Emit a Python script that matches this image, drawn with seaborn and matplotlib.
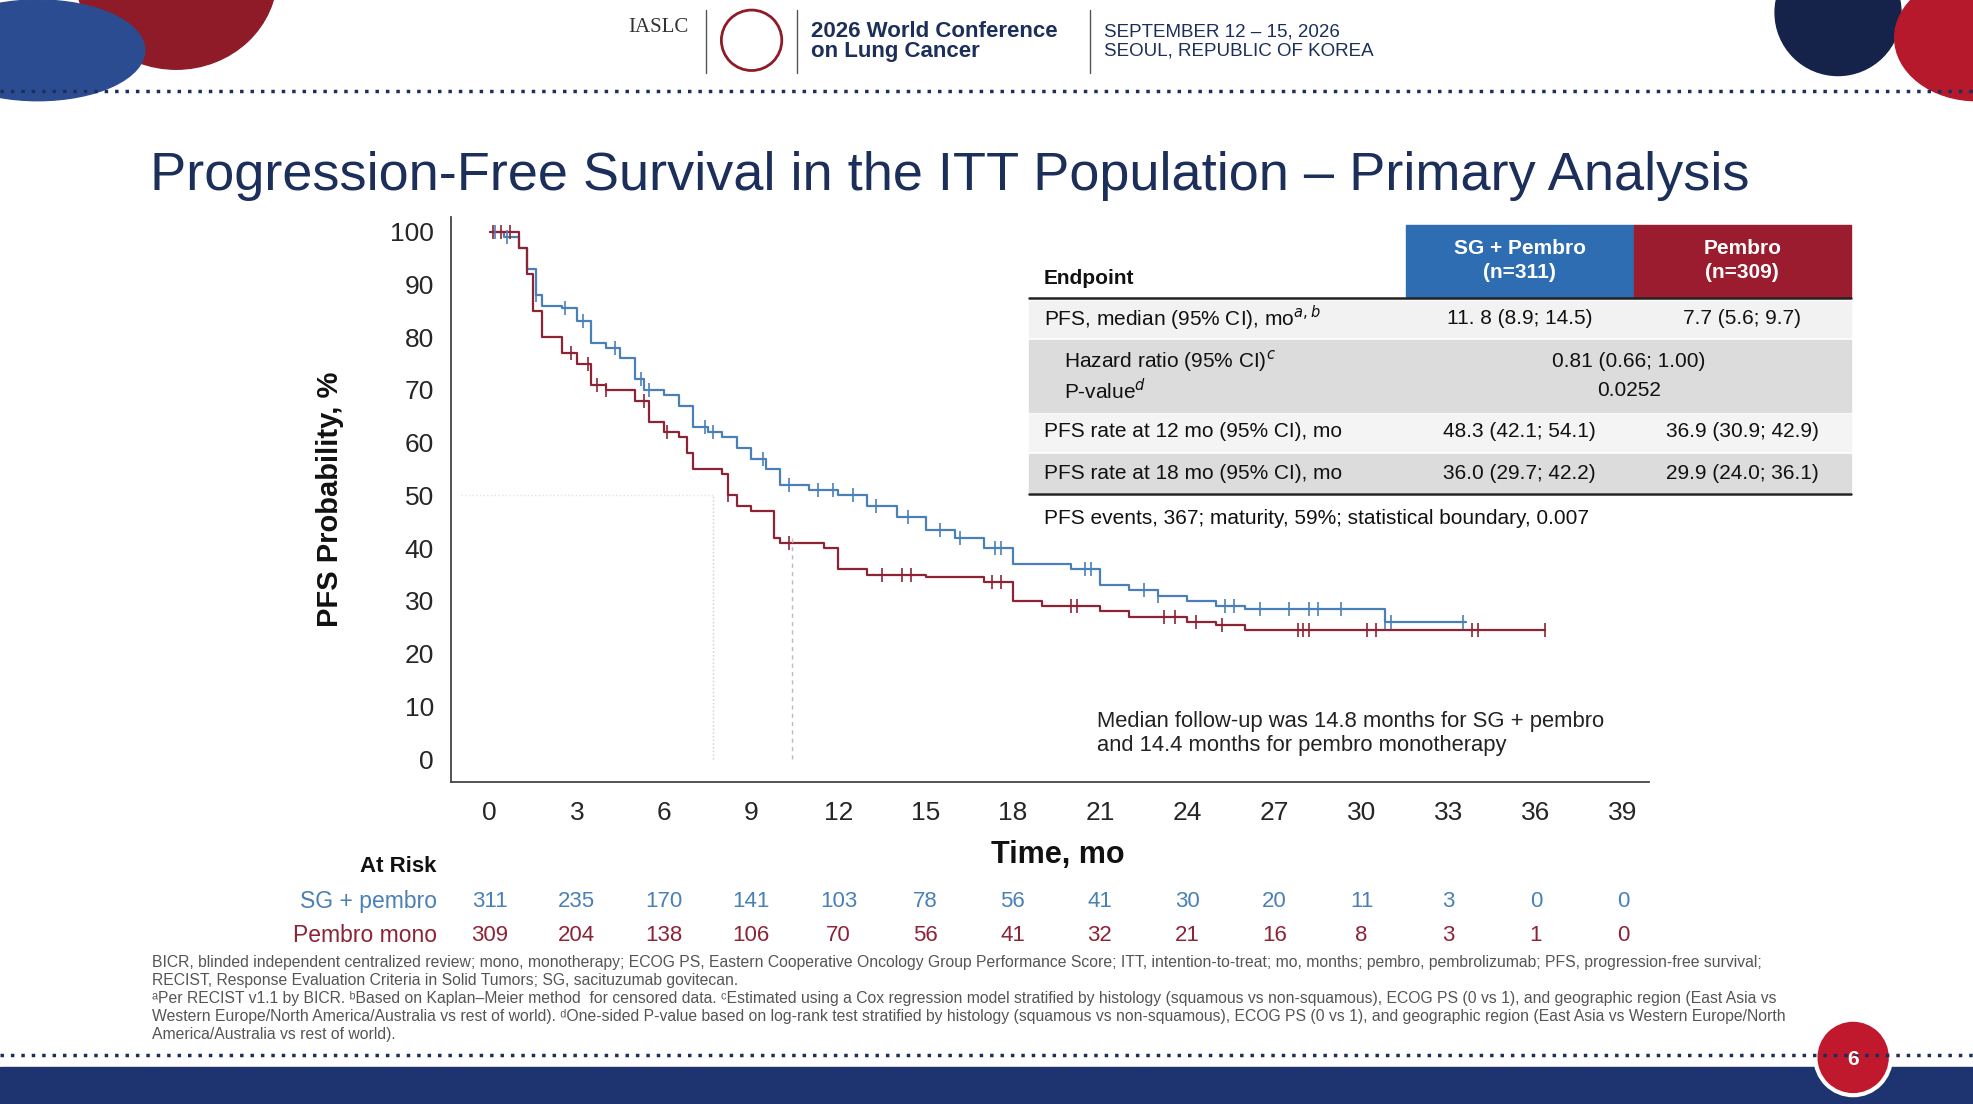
import numpy as np
import pandas as pd
import matplotlib
matplotlib.use("Agg")
import matplotlib.pyplot as plt
import matplotlib.patches as mp
from matplotlib.transforms import blended_transform_factory
import seaborn as sns

sns.set_style("white")
plt.rcParams['font.family'] = ['Liberation Sans', 'DejaVu Sans']

# ---------------- data ----------------
sg_t = [0, 0.5, 1.0, 1.3, 1.6, 1.8, 2.5, 3.0, 3.5, 4.0, 4.5, 5.0, 5.3, 6.0, 6.5, 7.0, 7.5, 8.0, 8.5, 9.0, 9.5, 10.0,
        11.0, 12.0, 13.0, 14.0, 15.0, 16.0, 17.0, 18.0, 20.0, 21.0, 22.0, 23.0, 24.0, 25.0, 26.0, 30.0, 30.8, 33.6]
sg_s = [100, 99, 97, 93, 88, 86, 85.5, 83, 79, 78, 76, 72, 70, 69, 67, 63, 62, 61, 59, 57, 55, 52,
        51, 50, 48, 46, 43.5, 42, 40, 37, 36, 33, 32, 31, 30, 29, 28.5, 28.5, 26, 26]
pb_t = [0, 1.0, 1.3, 1.5, 1.8, 2.5, 3.0, 3.5, 4.0, 5.0, 5.5, 6.0, 6.5, 6.8, 7.0, 8.0, 8.2, 8.5, 9.0, 9.8, 10.0,
        11.5, 12.0, 13.0, 15.0, 17.0, 18.0, 19.0, 21.0, 22.0, 24.0, 25.0, 26.0, 36.3]
pb_s = [100, 97, 92, 85, 80, 77, 75, 71, 70, 68, 64, 62, 61, 58, 55, 54, 50, 48, 47, 42, 41,
        40, 36, 35, 34.5, 33.5, 30, 29, 28, 27, 26, 25.5, 24.5, 24.5]
sg_cens = [0.2, 0.6, 1.6, 2.6, 3.2, 4.3, 5.2, 5.5, 7.4, 7.7, 9.4, 10.3, 11.3, 11.8, 12.5, 13.3, 14.4, 15.5, 16.2,
           17.4, 17.6, 20.5, 20.7, 22.5, 23.0, 25.3, 25.6, 26.5, 27.5, 28.2, 28.5, 29.3, 30.8, 31.0, 33.5]
pb_cens = [0.1, 0.4, 0.7, 2.8, 3.4, 3.7, 4.0, 5.3, 6.1, 8.2, 10.3, 13.5, 14.2, 14.5, 17.3, 17.6, 20.0, 20.2,
           23.2, 23.6, 24.3, 25.2, 27.8, 28.0, 28.2, 30.2, 30.5, 33.8, 34.0, 36.3]
ticks = [0, 3, 6, 9, 12, 15, 18, 21, 24, 27, 30, 33, 36, 39]
risk_sg = [311, 235, 170, 141, 103, 78, 56, 41, 30, 20, 11, 3, 0, 0]
risk_pb = [309, 204, 138, 106, 70, 56, 41, 32, 21, 16, 8, 3, 1, 0]
yticks = [0, 10, 20, 30, 40, 50, 60, 70, 80, 90, 100]

table_rows = [
    ("PFS, median (95% CI), mo$^{a,b}$", "11. 8 (8.9; 14.5)", "7.7 (5.6; 9.7)"),
    ("PFS rate at 12 mo (95% CI), mo", "48.3 (42.1; 54.1)", "36.9 (30.9; 42.9)"),
    ("PFS rate at 18 mo (95% CI), mo", "36.0 (29.7; 42.2)", "29.9 (24.0; 36.1)"),
]

BLUE = "#4a80b8"
RED = "#8c2436"
NAVY = "#1c2f5a"

W, H = 1568, 877
def fx(x): return x / W
def fy(y): return 1 - y / H

fig = plt.figure(figsize=(19.74, 11.04), dpi=100)
fig.patch.set_facecolor("white")

# ---------------- decorations ----------------
deco = fig.add_axes([0, 0, 1, 1], zorder=-5)
deco.set_xlim(0, W); deco.set_ylim(H, 0); deco.axis("off")
deco.add_patch(mp.Rectangle((0, 848), W, 29, color="#1d3470"))
deco.add_patch(mp.Ellipse((140, -20), 160, 150, color="#8e1b27"))
deco.add_patch(mp.Ellipse((30, 40), 170, 80, color="#2c4c92"))
deco.add_patch(mp.Ellipse((1460, 10), 100, 100, color="#15224a"))
deco.add_patch(mp.Ellipse((1570, 30), 130, 100, color="#b5192b"))
deco.plot([0, W], [72, 72], ls=(0, (1, 2)), color=NAVY, lw=2.5)
deco.plot([0, W], [838, 838], ls=(0, (1, 2)), color=NAVY, lw=2.5)
deco.add_patch(mp.Circle((1472, 840), 30, color="#c0182d", ec="white", lw=3))
deco.text(1472, 842, "6", color="white", fontsize=15, fontweight="bold", ha="center", va="center")
deco.add_patch(mp.Circle((597, 32), 24, fc="white", ec="#8e1b27", lw=2))
deco.plot([561, 561], [8, 58], color="#555", lw=1)
deco.plot([633, 633], [8, 58], color="#555", lw=1)
deco.plot([866, 866], [8, 58], color="#555", lw=1)

fig.text(fx(523), fy(22), "IASLC", fontsize=15, family="Liberation Serif", color="#333", ha="center", va="center")
fig.text(fx(644), fy(33), "2026 World Conference\non Lung Cancer", fontsize=16, fontweight="bold",
         color=NAVY, ha="left", va="center", linespacing=0.95)
fig.text(fx(877), fy(33), "SEPTEMBER 12 – 15, 2026\nSEOUL, REPUBLIC OF KOREA", fontsize=13.5,
         color=NAVY, ha="left", va="center", linespacing=1.15)
fig.text(fx(119), fy(140), "Progression-Free Survival in the ITT Population – Primary Analysis",
         fontsize=39, color=NAVY, ha="left", va="center")

# ---------------- KM plot ----------------
ax = fig.add_axes([fx(358), fy(621), fx(1310) - fx(358), fy(172) - fy(621)])
xmin, xmax = -1.34, 39.9
ax.set_xlim(xmin, xmax); ax.set_ylim(-4.3, 102.9)

for t, s, c in [(sg_t, sg_s, BLUE), (pb_t, pb_s, RED)]:
    df = pd.DataFrame({"t": t, "s": s})
    sns.lineplot(data=df, x="t", y="s", drawstyle="steps-post", color=c, lw=1.6, ax=ax, estimator=None)

def surv_at(tt, t, s):
    idx = np.searchsorted(np.array(t), np.array(tt), side="right") - 1
    return np.array(s)[idx]

for cens, t, s, c in [(sg_cens, sg_t, sg_s, BLUE), (pb_cens, pb_t, pb_s, RED)]:
    ax.scatter(cens, surv_at(cens, t, s), marker="|", s=110, color=c, lw=1.2, zorder=3)

ax.plot([7.7, 7.7], [0, 50], ls=":", color="#ccc", lw=1)
ax.plot([10.4, 10.4], [0, 42], ls=(0, (3, 3)), color="#bbb", lw=1)
ax.plot([-1, 7.7], [50, 50], ls=":", color="#e3e3e3", lw=1)

ax.set_xticks(ticks)
ax.set_yticks(yticks)
ax.tick_params(axis="both", length=0, labelsize=19, pad=14)
ax.tick_params(axis="y", pad=12)
for sp in ["top", "right"]:
    ax.spines[sp].set_visible(False)
for sp in ["left", "bottom"]:
    ax.spines[sp].set_color("#444"); ax.spines[sp].set_linewidth(1.3)
ax.set_xlabel(""); ax.set_ylabel("")
fig.text(fx(262), fy(397), "PFS Probability, %", rotation=90, fontsize=21, fontweight="bold",
         color="#111", ha="center", va="center")
fig.text(fx(840), fy(679), "Time, mo", fontsize=22, fontweight="bold", color="#111", ha="center", va="center")

ax.text(20.9, 0.5, "Median follow-up was 14.8 months for SG + pembro\nand 14.4 months for pembro monotherapy",
        fontsize=15.8, color="#222", ha="left", va="bottom", linespacing=1.2)

# ---------------- at risk ----------------
tr = blended_transform_factory(ax.transData, fig.transFigure)
fig.text(fx(347), fy(688), "At Risk", fontsize=16, fontweight="bold", ha="right", va="center", color="#111")
fig.text(fx(347), fy(716), "SG + pembro", fontsize=16.5, color=BLUE, ha="right", va="center")
fig.text(fx(347), fy(743), "Pembro mono", fontsize=16.5, color=RED, ha="right", va="center")
for x, a, b in zip(ticks, risk_sg, risk_pb):
    ax.text(x, fy(716), str(a), transform=tr, fontsize=16, color=BLUE, ha="center", va="center")
    ax.text(x, fy(743), str(b), transform=tr, fontsize=16, color=RED, ha="center", va="center")

# ---------------- table ----------------
tb = fig.add_axes([0, 0, 1, 1], zorder=5)
tb.set_xlim(0, W); tb.set_ylim(H, 0); tb.axis("off"); tb.patch.set_alpha(0)
tb.add_patch(mp.Rectangle((1117, 179), 181, 57, color="#2f6db3"))
tb.add_patch(mp.Rectangle((1298, 179), 172, 57, color="#9a1c2e"))
tb.text(1207, 207, "SG + Pembro\n(n=311)", color="white", fontsize=15, fontweight="bold", ha="center", va="center", linespacing=1.3)
tb.text(1384, 207, "Pembro\n(n=309)", color="white", fontsize=15, fontweight="bold", ha="center", va="center", linespacing=1.3)
tb.text(829, 221, "Endpoint", fontsize=15, fontweight="bold", color="#111", ha="left", va="center")
tb.plot([817, 1470], [236.5, 236.5], color="#222", lw=1.8)
tb.add_patch(mp.Rectangle((817, 239), 653, 29, color="#f2f2f2"))
tb.add_patch(mp.Rectangle((817, 270), 653, 57, color="#dcdcdc"))
tb.add_patch(mp.Rectangle((817, 329), 653, 29, color="#f4f4f4"))
tb.add_patch(mp.Rectangle((817, 361), 653, 30, color="#dcdcdc"))
tb.plot([817, 1470], [392.5, 392.5], color="#222", lw=1.8)
FS = 15
ys = [253, 343, 376]
for (lab, a, b), y in zip(table_rows, ys):
    tb.text(829, y, lab, fontsize=FS, color="#111", ha="left", va="center")
    tb.text(1207, y, a, fontsize=FS, color="#111", ha="center", va="center")
    tb.text(1384, y, b, fontsize=FS, color="#111", ha="center", va="center")
tb.text(845, 287, "Hazard ratio (95% CI)$^{c}$", fontsize=FS, color="#111", ha="left", va="center")
tb.text(845, 310, "P-value$^{d}$", fontsize=FS, color="#111", ha="left", va="center")
tb.text(1294, 287, "0.81 (0.66; 1.00)", fontsize=FS, color="#111", ha="center", va="center")
tb.text(1294, 310, "0.0252", fontsize=FS, color="#111", ha="center", va="center")
tb.text(829, 412, "PFS events, 367; maturity, 59%; statistical boundary, 0.007", fontsize=FS,
        color="#111", ha="left", va="center")

# ---------------- footnotes ----------------
foot = ("BICR, blinded independent centralized review; mono, monotherapy; ECOG PS, Eastern Cooperative Oncology Group Performance Score; ITT, intention-to-treat; mo, months; pembro, pembrolizumab; PFS, progression-free survival;\n"
        "RECIST, Response Evaluation Criteria in Solid Tumors; SG, sacituzumab govitecan.\n"
        "ᵃPer RECIST v1.1 by BICR. ᵇBased on Kaplan–Meier method  for censored data. ᶜEstimated using a Cox regression model stratified by histology (squamous vs non-squamous), ECOG PS (0 vs 1), and geographic region (East Asia vs\n"
        "Western Europe/North America/Australia vs rest of world). ᵈOne-sided P-value based on log-rank test stratified by histology (squamous vs non-squamous), ECOG PS (0 vs 1), and geographic region (East Asia vs Western Europe/North\n"
        "America/Australia vs rest of world).")
fig.text(fx(121), fy(759), foot, fontsize=11.3, color="#555", ha="left", va="top", linespacing=1.25,
         family=['Liberation Sans', 'DejaVu Sans'])

fig.savefig("out.png", dpi=100)
